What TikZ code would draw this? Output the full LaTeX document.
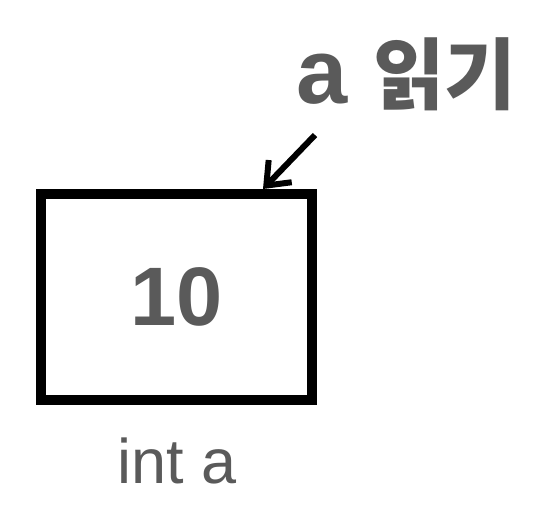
\documentclass[tikz,border=0pt]{standalone}
\usepackage{fontspec}
\setmainfont{Liberation Sans}
\newfontfamily\kr{Noto Sans CJK KR}
\usepackage{xcolor}
\usetikzlibrary{arrows.meta,positioning,calc}
\definecolor{txtgray}{HTML}{5A5A5A}

\begin{document}
\begin{tikzpicture}[x = 1pt, y = -1pt]
\useasboundingbox (0,0) rectangle (540,511);
\node[draw, line width = 10pt, minimum width = 271pt, minimum height = 206pt, inner sep = 0pt, text = txtgray, font = \fontsize{83}{83}\selectfont\bfseries] (box) at (176.5,297) {10};
\node[anchor = base, text = txtgray, font = \fontsize{63}{63}\selectfont] (name) at (177.5,483) {int a};
\node[anchor = base, text = txtgray, font = \fontsize{92}{92}\selectfont\bfseries] (read) at (406.5,103) {a {\kr\bfseries\fontsize{78}{78}\selectfont 읽기}};
\coordinate (tail) at (315,135);
\draw[-{Straight Barb[length = 20pt, width = 32pt]}, line width = 6pt] (tail) -- ([xshift = 86.5pt]box.north);
\end{tikzpicture}
\end{document}
